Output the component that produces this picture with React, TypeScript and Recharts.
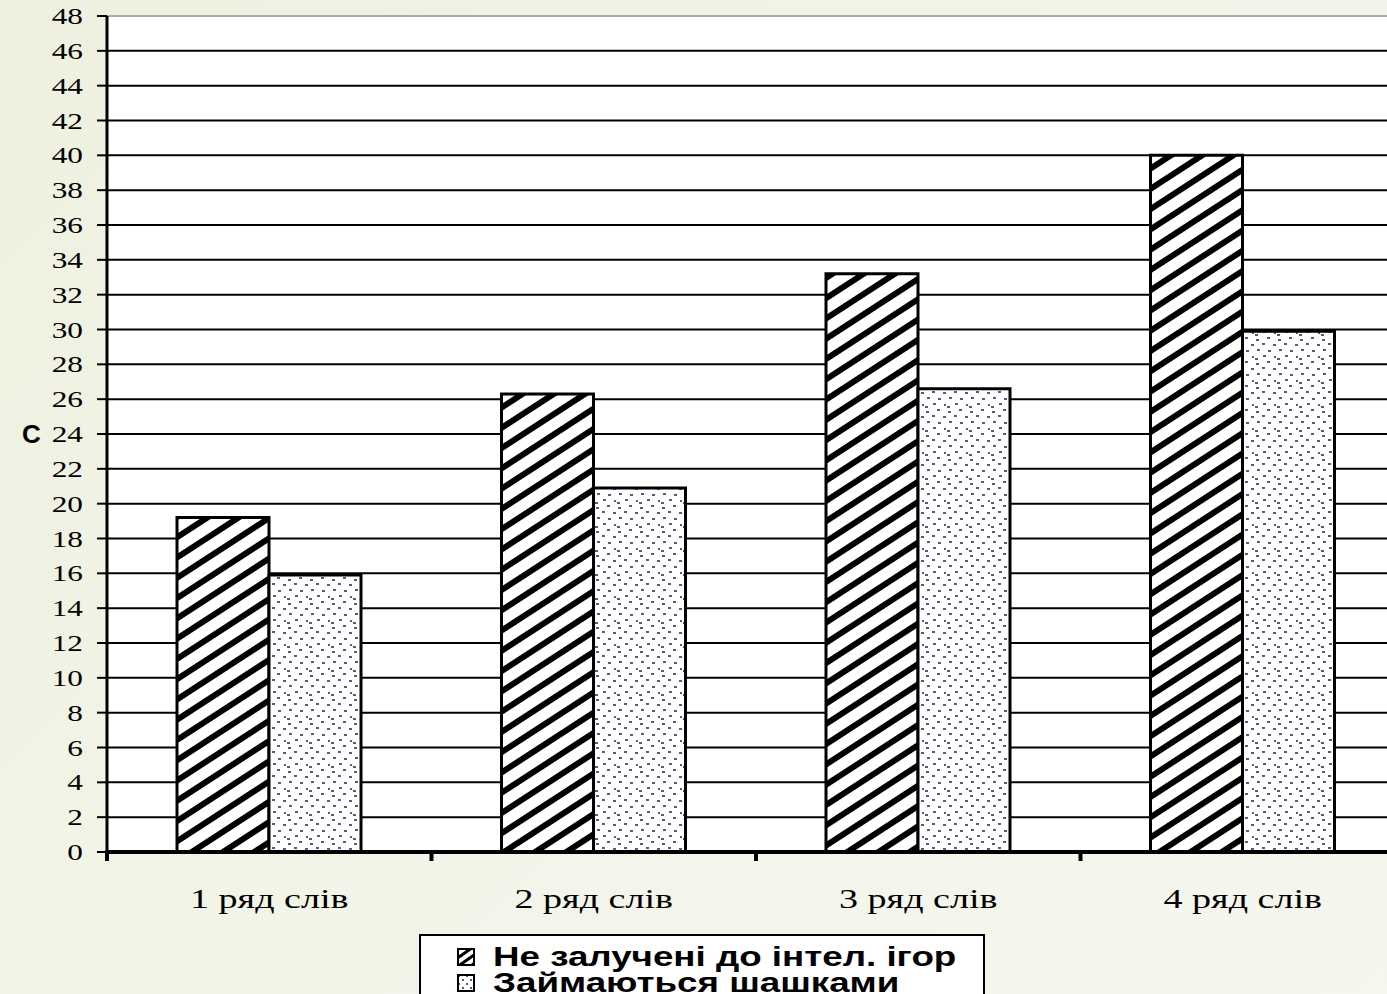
import React from 'react';
import { BarChart, Bar, XAxis, YAxis, CartesianGrid, Legend } from 'recharts';

// Chart data
const categories = ['1 ряд слів', '2 ряд слів', '3 ряд слів', '4 ряд слів'];
const notInvolved = [19.2, 26.3, 33.2, 40.0];
const checkers = [15.9, 20.9, 26.6, 29.9];
const yTicks = [0, 2, 4, 6, 8, 10, 12, 14, 16, 18, 20, 22, 24, 26, 28, 30, 32, 34, 36, 38, 40, 42, 44, 46, 48];
const seriesNames = ['Не залучені до інтел. ігор', 'Займаються шашками'];

const data = categories.map((name, i) => ({ name, a: notInvolved[i], b: checkers[i] }));

const SERIF = '"Liberation Serif", "Times New Roman", serif';
const SANS = '"Liberation Sans", Arial, sans-serif';
const DOT = '#58588f';
// the original picture is stretched sideways, so text is too
const STRETCH = 1.36;

// scattered dot positions inside one pattern tile
const dotSpots = [
  [2, 3], [13, 1], [8, 7], [19, 8], [3, 13], [14, 14], [9, 19], [20, 20], [1, 22],
];

const CategoryTick = (props: any) => {
  const { x, y, payload } = props;
  const half = payload && payload.offset ? payload.offset : 162;
  return (
    <g>
      <line x1={x - half} y1={y - 2} x2={x - half} y2={y + 9} stroke="#000" strokeWidth={4} />
      <text
        transform={`translate(${x},${y + 56}) scale(${STRETCH},1)`}
        textAnchor="middle"
        fontFamily={SERIF}
        fontSize={28}
        fill="#000"
      >
        {payload.value}
      </text>
    </g>
  );
};

const ValueTick = (props: any) => {
  const { x, y, payload } = props;
  return (
    <text
      transform={`translate(${x},${y + 8}) scale(${STRETCH},1)`}
      textAnchor="end"
      fontFamily={SERIF}
      fontSize={23}
      fill="#000"
    >
      {payload.value}
    </text>
  );
};

const GridLine = (props: any) => {
  const { x1, x2, y1, y2 } = props;
  const isTop = Math.abs(y1 - 16) < 1;
  return <line x1={x1} x2={x2} y1={y1} y2={y2} stroke={isTop ? '#aaa' : '#000'} strokeWidth={2} />;
};

const LegendBox = () => (
  <div
    style={{
      width: 566,
      height: 70,
      background: '#fff',
      border: '2px solid #000',
      boxSizing: 'border-box',
      padding: '8px 0 0 36px',
      fontFamily: SANS,
      fontWeight: 'bold',
      fontSize: 27,
      lineHeight: '26px',
      color: '#000',
    }}
  >
    {seriesNames.map((name, i) => (
      <div key={name} style={{ display: 'flex', alignItems: 'center', whiteSpace: 'nowrap' }}>
        <svg width={18} height={18} style={{ marginRight: 18 }}>
          <rect x={1} y={1} width={16} height={16} fill={i === 0 ? 'url(#legStripe)' : 'url(#legDots)'} stroke="#000" strokeWidth={2} />
        </svg>
        <span style={{ display: 'inline-block', transform: 'scaleX(1.36)', transformOrigin: 'left center' }}>{name}</span>
      </div>
    ))}
  </div>
);

export default function App() {
  return (
    <div
      style={{
        position: 'absolute',
        left: 0,
        top: 0,
        width: 1387,
        height: 994,
        overflow: 'hidden',
        background: 'linear-gradient(135deg, #eef1df 0%, #f3f5ea 60%, #f5f7ee 100%)',
      }}
    >
      <svg width={0} height={0} style={{ position: 'absolute' }}>
        <defs>
          <pattern id="legStripe" patternUnits="userSpaceOnUse" width={7} height={7} patternTransform="rotate(-35)">
            <rect width={7} height={7} fill="#fff" />
            <rect width={7} height={3} fill="#000" />
          </pattern>
          <pattern id="legDots" patternUnits="userSpaceOnUse" width={8} height={8}>
            <rect width={8} height={8} fill="#fff" />
            <rect x={1} y={1} width={2} height={2} fill={DOT} />
            <rect x={5} y={5} width={2} height={2} fill={DOT} />
          </pattern>
        </defs>
      </svg>
      <BarChart
        width={1410}
        height={994}
        data={data}
        margin={{ top: 16, right: 5, left: 0, bottom: 82 }}
        barGap={0}
        barSize={92}
      >
        <defs>
          <pattern id="stripes" patternUnits="userSpaceOnUse" width={10} height={17} patternTransform="rotate(-33)">
            <rect width={10} height={17} fill="#fff" />
            <rect width={10} height={6} fill="#000" />
          </pattern>
          <pattern id="dots" patternUnits="userSpaceOnUse" width={22} height={24}>
            <rect width={22} height={24} fill="#fff" />
            {dotSpots.map(([dx, dy], i) => (
              <rect key={i} x={dx} y={dy} width={3} height={2} fill={DOT} />
            ))}
          </pattern>
        </defs>
        <CartesianGrid vertical={false} horizontal={(p: any) => <GridLine key={p.key ?? p.index} {...p} />} fill="#fff" />
        <XAxis
          dataKey="name"
          height={60}
          axisLine={{ stroke: '#000', strokeWidth: 4 }}
          tickLine={false}
          tickSize={0}
          tickMargin={0}
          tick={<CategoryTick />}
          interval={0}
        />
        <YAxis
          width={107}
          domain={[0, 48]}
          ticks={yTicks}
          interval={0}
          allowDataOverflow
          axisLine={{ stroke: '#000', strokeWidth: 3 }}
          tickLine={{ stroke: '#000', strokeWidth: 2 }}
          tickSize={10}
          tickMargin={14}
          tick={<ValueTick />}
          label={{
            value: 'C',
            position: 'insideLeft',
            offset: 22,
            style: { fill: '#000', fontFamily: SANS, fontWeight: 'bold', fontSize: 26 },
          }}
        />
        <Legend
          layout="horizontal"
          verticalAlign="middle"
          align="center"
          wrapperStyle={{ position: 'absolute', left: 419, top: 934, width: 566, height: 70 }}
          content={() => <LegendBox />}
        />
        <Bar dataKey="a" name={seriesNames[0]} fill="url(#stripes)" stroke="#000" strokeWidth={3} isAnimationActive={false} />
        <Bar dataKey="b" name={seriesNames[1]} fill="url(#dots)" stroke="#000" strokeWidth={3} isAnimationActive={false} />
      </BarChart>
    </div>
  );
}
